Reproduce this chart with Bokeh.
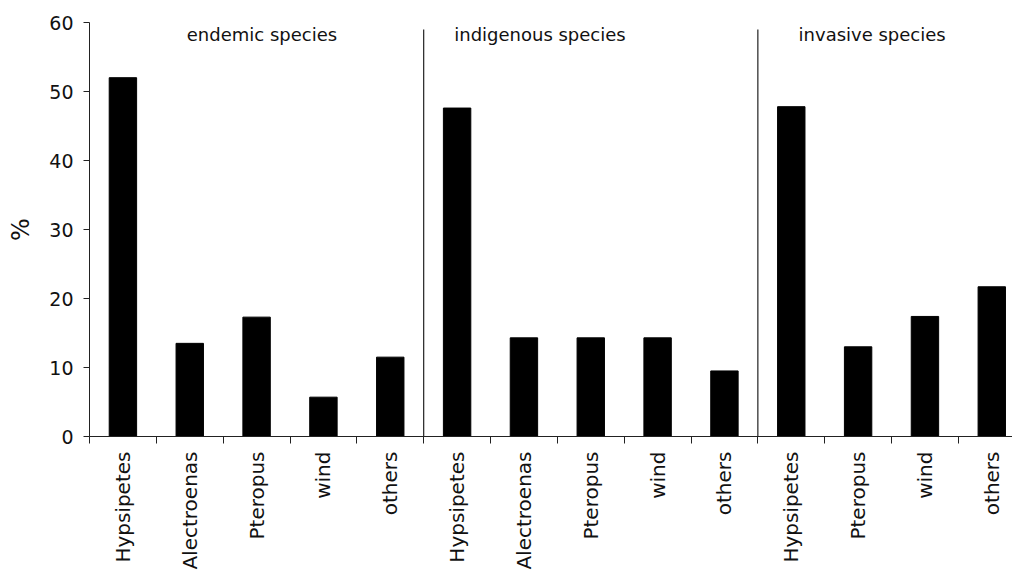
import numpy as np
from bokeh.plotting import figure
from bokeh.models import (Range1d, FixedTicker, SingleIntervalTicker, ColumnDataSource, LinearAxis)
from bokeh.core.properties import value
from bokeh.embed import file_html
from bokeh.resources import INLINE

# ---- data ----
groups = ["endemic species", "indigenous species", "invasive species"]
endemic_cats = ["Hypsipetes", "Alectroenas", "Pteropus", "wind", "others"]
endemic_vals = [52.0, 13.5, 17.3, 5.7, 11.5]
indigenous_cats = ["Hypsipetes", "Alectroenas", "Pteropus", "wind", "others"]
indigenous_vals = [47.6, 14.3, 14.3, 14.3, 9.5]
invasive_cats = ["Hypsipetes", "Pteropus", "wind", "others"]
invasive_vals = [47.8, 13.0, 17.4, 21.7]
y_ticks_step = 10

cats = endemic_cats + indigenous_cats + invasive_cats
vals = endemic_vals + indigenous_vals + invasive_vals
sizes = [len(endemic_cats), len(indigenous_cats), len(invasive_cats)]
n = len(cats)
centers = [i + 0.5 for i in range(n)]
bounds = list(np.cumsum(sizes)[:-1].astype(float))

FONT = "DejaVu Sans"
TXT = "#111111"

p = figure(width=1012, height=572, output_backend="svg", toolbar_location=None,
           x_range=Range1d(0, 13.81), y_range=Range1d(0, 60),
           min_border_left=89, min_border_right=0, min_border_top=22,
           min_border_bottom=136, x_axis_location=None, y_axis_location=None)
p.outline_line_color = None
p.xgrid.visible = False
p.ygrid.visible = False
p.background_fill_color = "white"
p.border_fill_color = "white"

src = ColumnDataSource(dict(x=centers, top=vals))
p.vbar(x="x", top="top", bottom=0, width=0.41, source=src,
       fill_color="black", line_color="black")

# group separators
p.segment(x0=bounds, y0=[0] * len(bounds), x1=bounds, y1=[59] * len(bounds),
          line_color="#222222", line_width=1.2)

# group labels
group_x = [2.58, 6.74, 11.71]
p.text(x=group_x, y=[58.2] * 3, text=groups, text_align="center",
       text_baseline="middle", text_font=value(FONT), text_font_size="18px",
       text_color=TXT)

# y axis
yax = LinearAxis(ticker=SingleIntervalTicker(interval=y_ticks_step, num_minor_ticks=0))
yax.axis_label = "%"
yax.axis_label_text_font = FONT
yax.axis_label_text_font_size = "24px"
yax.axis_label_text_font_style = "normal"
yax.axis_label_text_color = TXT
yax.axis_label_standoff = 11
yax.major_label_text_font = FONT
yax.major_label_text_font_size = "19px"
yax.major_label_text_color = TXT
yax.major_tick_out = 6
yax.major_tick_in = 0
yax.major_label_standoff = 10
yax.axis_line_color = "#222222"
yax.major_tick_line_color = "#222222"
p.add_layout(yax, "left")

# x axis: labels at category centres, ticks at boundaries
xax = LinearAxis(ticker=FixedTicker(ticks=centers, minor_ticks=list(range(n + 1))))
xax.major_label_overrides = {c: name for c, name in zip(centers, cats)}
xax.major_label_orientation = np.pi / 2
xax.major_label_text_font = FONT
xax.major_label_text_font_size = "20px"
xax.major_label_text_color = TXT
xax.major_tick_out = 0
xax.major_tick_in = 0
xax.major_tick_line_color = None
xax.minor_tick_out = 7
xax.minor_tick_in = 0
xax.minor_tick_line_color = "#222222"
xax.major_label_standoff = 8
xax.axis_line_color = "#222222"
p.add_layout(xax, "below")

open("out.html", "w").write(file_html(p, INLINE))
